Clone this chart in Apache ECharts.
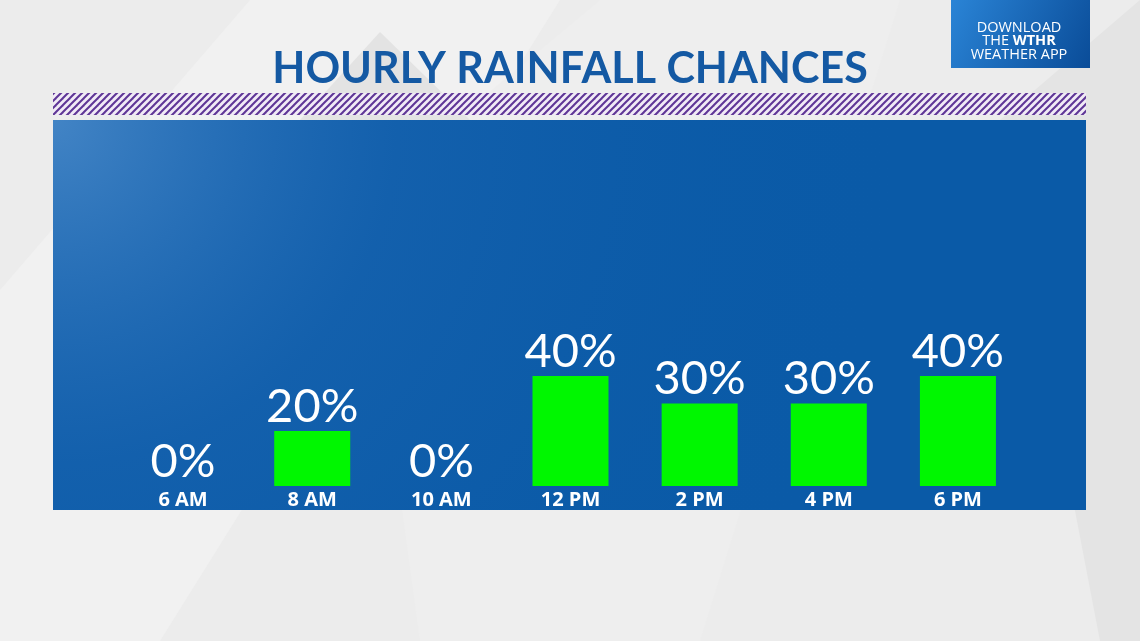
<!DOCTYPE html>
<html>
<head>
<meta charset="utf-8">
<script src="https://cdn.jsdelivr.net/npm/echarts@6/dist/echarts.min.js"></script>
<style>
html,body{margin:0;padding:0;background:#ececec;}
#main{width:1140px;height:641px;}
</style>
</head>
<body>
<div id="main"></div>
<script>
const categories = ['6 AM', '8 AM', '10 AM', '12 PM', '2 PM', '4 PM', '6 PM'];
const chances = [0, 20, 0, 40, 30, 30, 40];
const titleText = 'HOURLY RAINFALL CHANCES';

// hatch pattern for stripe
const pat = document.createElement('canvas');
pat.width = 7; pat.height = 7;
(function () {
  const c = pat.getContext('2d');
  c.fillStyle = '#f1ebf6';
  c.fillRect(0, 0, 7, 7);
  c.strokeStyle = '#5e3596';
  c.lineWidth = 2;
  for (let k = -7; k <= 7; k += 7) {
    c.beginPath();
    c.moveTo(k - 1, 8);
    c.lineTo(k + 8, -1);
    c.stroke();
  }
})();

const chart = echarts.init(document.getElementById('main'), null, { renderer: 'canvas' });

const option = {
  backgroundColor: '#ececec',
  animation: false,
  graphic: [
    // subtle background facets
    { type: 'polygon', z: -10, shape: { points: [[0, 290], [250, 0], [560, 0], [160, 641], [0, 641]] }, style: { fill: '#f1f1f1' } },
    { type: 'polygon', z: -10, shape: { points: [[360, 200], [600, 0], [900, 0], [700, 641], [420, 641]] }, style: { fill: '#eeeeee' } },
    { type: 'polygon', z: -10, shape: { points: [[1000, 120], [1140, 0], [1140, 641], [1100, 641]] }, style: { fill: '#e4e4e4' } },
    { type: 'polygon', z: -10, shape: { points: [[300, 120], [380, 32], [470, 120]] }, style: { fill: '#e3e3e3' } },
    // hatch stripe
    { type: 'rect', z: -5, shape: { x: 53, y: 93, width: 1033, height: 22 }, style: { fill: { image: pat, repeat: 'repeat' } } },
    // blue panel
    {
      type: 'rect', z: -5, shape: { x: 53, y: 120, width: 1033, height: 390 },
      style: { fill: '#0a5aa7' }
    },
    {
      type: 'rect', z: -4, shape: { x: 53, y: 120, width: 1033, height: 390 },
      style: {
        fill: new echarts.graphic.RadialGradient(0, 0, 2.2, [
          { offset: 0, color: 'rgba(90,150,210,0.7)' },
          { offset: 0.4, color: 'rgba(40,110,185,0.3)' },
          { offset: 1, color: 'rgba(10,90,167,0)' }
        ])
      }
    },
    // logo box
    {
      type: 'rect', z: -4, shape: { x: 951, y: 0, width: 139, height: 68 },
      style: {
        fill: new echarts.graphic.LinearGradient(0, 0, 1, 1, [
          { offset: 0, color: '#2a84d6' },
          { offset: 1, color: '#0a4c98' }
        ])
      }
    },
    {
      type: 'text', z: 5, x: 1019, y: 21,
      style: {
        text: 'DOWNLOAD\n{n|THE }{b|WTHR}\nWEATHER APP',
        align: 'center', verticalAlign: 'top',
        fill: '#ffffff', fontSize: 14.5, fontFamily: '"Open Sans", sans-serif', lineHeight: 13.5,
        rich: {
          n: { fill: '#ffffff', fontSize: 14.5, fontFamily: '"Open Sans", sans-serif', lineHeight: 13.5 },
          b: { fill: '#ffffff', fontSize: 14.5, fontFamily: '"Open Sans", sans-serif', fontWeight: 'bold', lineHeight: 13.5 }
        }
      }
    }
  ],
  title: {
    text: titleText,
    left: 'center',
    top: 43,
    textStyle: { color: '#1459a3', fontSize: 43, fontWeight: 'bold', fontFamily: 'Lato, "Open Sans", sans-serif' }
  },
  grid: { left: 118.5, right: 117.5, top: 211, bottom: 155 },
  xAxis: {
    type: 'category',
    data: categories,
    axisLine: { show: false },
    axisTick: { show: false },
    axisLabel: { color: '#ffffff', fontSize: 20, fontWeight: 'bold', fontFamily: '"Open Sans", sans-serif', margin: 4 }
  },
  yAxis: {
    type: 'value', min: 0, max: 100, interval: 20, show: false,
    splitLine: { show: false }
  },
  series: [{
    type: 'bar',
    data: chances,
    barWidth: 76,
    itemStyle: { color: '#00f700', borderWidth: 0 },
    label: {
      show: true, position: 'top', distance: 1,
      formatter: '{c}%',
      color: '#ffffff', fontSize: 47, fontWeight: 'normal',
      fontFamily: 'Lato, "Open Sans", sans-serif'
    }
  }]
};
chart.setOption(option);
</script>
</body>
</html>
